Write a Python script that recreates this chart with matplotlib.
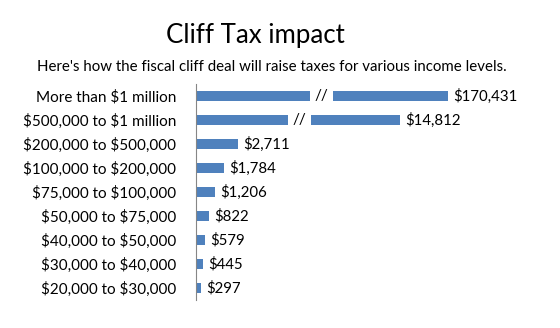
import numpy as np
import matplotlib
matplotlib.use("Agg")
import matplotlib.pyplot as plt

plt.rcParams['font.family'] = ['Lato', 'DejaVu Sans']
plt.rcParams['text.parse_math'] = False

# data
income_levels = ["More than $1 million", "$500,000 to $1 million", "$200,000 to $500,000",
                 "$100,000 to $200,000", "$75,000 to $100,000", "$50,000 to $75,000",
                 "$40,000 to $50,000", "$30,000 to $40,000", "$20,000 to $30,000"]
tax_increase = [170431, 14812, 2711, 1784, 1206, 822, 579, 445, 297]

# bars too long for the scale are drawn broken: (first piece end, second piece start, second piece end)
broken = {0: (7350, 8840, 16260), 1: (5930, 7420, 13160)}

bar_color = "#4F81BD"

fig = plt.figure(figsize=(5.6, 3.28), dpi=100)
ax = fig.add_axes([196/560, 28/328, 344/560, 216/328])

y = np.arange(len(income_levels))
for i, val in enumerate(tax_increase):
    if i in broken:
        a, b, c = broken[i]
        ax.barh(i, a, left=0, height=0.4, color=bar_color)
        ax.barh(i, c - b, left=b, height=0.4, color=bar_color)
        ax.text((a + b) / 2, i, "//", ha="center", va="center", fontsize=11)
        end = c
    else:
        ax.barh(i, val, height=0.4, color=bar_color)
        end = val
    ax.text(end + 350, i, "${:,}".format(val), ha="left", va="center", fontsize=10.8)

ax.set_xlim(0, 22200)
ax.set_ylim(len(income_levels) - 0.5, -0.5)
ax.set_yticks(y)
ax.set_yticklabels(income_levels, fontsize=11)
ax.tick_params(axis="y", length=0, pad=14.4)
ax.set_xticks([])
for s in ["top", "right", "bottom"]:
    ax.spines[s].set_visible(False)
ax.spines["left"].set_color("#868686")

fig.text(255.5/560, 1 - 43/328, "Cliff Tax impact", ha="center", va="baseline", fontsize=18.6)
fig.text(272/560, 1 - 71/328, "Here's how the fiscal cliff deal will raise taxes for various income levels.",
         ha="center", va="baseline", fontsize=10.8)

fig.savefig("out.png", dpi=100)
